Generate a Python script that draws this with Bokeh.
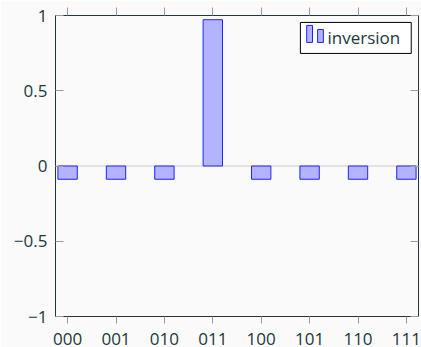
from bokeh.plotting import figure
from bokeh.models import (FactorRange, Range1d, Span, BoxAnnotation, Label,
                          LinearAxis, FixedTicker, ColumnDataSource)
from bokeh.embed import file_html
from bokeh.resources import INLINE

# ---- data ----
states = ["000", "001", "010", "011", "100", "101", "110", "111"]
inversion = [-0.088, -0.088, -0.088, 0.972, -0.088, -0.088, -0.088, -0.088]
y_ticks = [-1, -0.5, 0, 0.5, 1]
y_tick_labels = ["\u22121", "\u22120.5", "0", "0.5", "1"]
series_name = "inversion"

FONT = "Open Sans"
TXT = "#23373b"
TICK = "#9a9a9a"
BG = "#fafafa"

src = ColumnDataSource(dict(state=states, val=inversion))

p = figure(width=421, height=347, output_backend="svg", toolbar_location=None,
           x_range=FactorRange(factors=states, range_padding=-0.0625,
                               range_padding_units="percent"),
           y_range=Range1d(-1, 1),
           min_border_left=55, min_border_right=3, min_border_top=15, min_border_bottom=20,
           background_fill_color=BG, border_fill_color=BG)

p.xgrid.visible = False
p.ygrid.visible = False
p.outline_line_color = TXT
p.outline_line_width = 1

zero = Span(location=0, dimension="width", line_color="#cccccc", line_width=1, level="underlay")
p.add_layout(zero)

p.vbar(x="state", top="val", bottom=0, width=0.4, source=src,
       fill_color="#b3b3ff", line_color="#2020ff", line_width=1)

# bottom axis
xa = p.xaxis[0]
xa.axis_line_color = None
xa.major_tick_line_color = TICK
xa.major_tick_out = 7
xa.major_tick_in = 0
xa.major_label_standoff = 9
xa.major_label_text_font = FONT
xa.major_label_text_font_size = "17px"
xa.major_label_text_line_height = 0.6
xa.major_label_text_color = TXT

# left axis
ya = p.yaxis[0]
ya.ticker = FixedTicker(ticks=y_ticks)
ya.major_label_overrides = {t: l for t, l in zip(y_ticks, y_tick_labels)}
ya.axis_line_color = None
ya.major_tick_line_color = TICK
ya.major_tick_out = 0
ya.major_tick_in = 8
ya.minor_tick_line_color = None
ya.major_label_standoff = 8
ya.major_label_text_font = FONT
ya.major_label_text_font_size = "17px"
ya.major_label_text_color = TXT

# top axis (ticks only, outward) at the category centres
cat_centres = [i + 0.5 for i in range(len(states))]
ta = LinearAxis(ticker=FixedTicker(ticks=cat_centres), axis_line_color=None,
                major_tick_line_color=TICK, major_tick_out=8, major_tick_in=0,
                minor_tick_line_color=None, major_label_standoff=0,
                major_label_overrides={c: "" for c in cat_centres})
p.add_layout(ta, "above")

# right axis (ticks only, inward)
ra = LinearAxis(ticker=FixedTicker(ticks=y_ticks), axis_line_color=None,
                major_tick_line_color=TICK, major_tick_out=0, major_tick_in=8,
                minor_tick_line_color=None, major_label_standoff=0,
                major_label_overrides={t: "" for t in y_ticks})
p.add_layout(ra, "right")

# legend (pgfplots style), positioned in the axes' own coordinates
p.add_layout(BoxAnnotation(left=5.31, right=7.60, top=0.954, bottom=0.748,
                           fill_color="white", fill_alpha=1,
                           line_color="black", line_width=1, line_alpha=1))
p.add_layout(BoxAnnotation(left=5.44, right=5.56, top=0.934, bottom=0.821,
                           fill_color="#b3b3ff", fill_alpha=1,
                           line_color="#2020ff", line_width=1, line_alpha=1))
p.add_layout(BoxAnnotation(left=5.665, right=5.785, top=0.907, bottom=0.821,
                           fill_color="#b3b3ff", fill_alpha=1,
                           line_color="#2020ff", line_width=1, line_alpha=1))
p.add_layout(Label(x=5.87, y=0.855, text=series_name,
                   text_baseline="middle", text_font=FONT, text_font_size="17px",
                   text_color=TXT))

open("out.html", "w").write(file_html(p, INLINE))
